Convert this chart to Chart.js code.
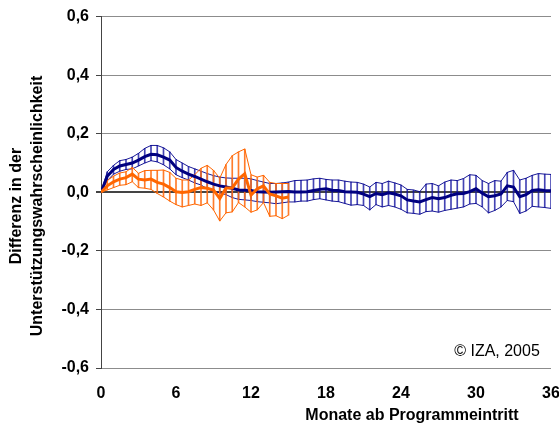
<!DOCTYPE html>
<html>
<head>
<meta charset="utf-8">
<script src="https://cdn.jsdelivr.net/npm/chart.js@4.4.1/dist/chart.umd.min.js"></script>
<style>
  html, body { margin: 0; padding: 0; background: #fff; }
  #wrap { width: 559px; height: 428px; }
</style>
</head>
<body>
<div id="wrap"><canvas id="chart" width="559" height="428"></canvas></div>
<script>
// months after programme entry, half-month steps
const months = [
  0, 0.5, 1, 1.5, 2, 2.5, 3, 3.5, 4, 4.5, 5, 5.5, 6, 6.5, 7, 7.5, 8, 8.5, 9, 9.5,
  10, 10.5, 11, 11.5, 12, 12.5, 13, 13.5, 14, 14.5, 15, 15.5, 16, 16.5, 17, 17.5,
  18, 18.5, 19, 19.5, 20, 20.5, 21, 21.5, 22, 22.5, 23, 23.5, 24, 24.5, 25, 25.5,
  26, 26.5, 27, 27.5, 28, 28.5, 29, 29.5, 30, 30.5, 31, 31.5, 32, 32.5, 33, 33.5,
  34, 34.5, 35, 35.5, 36
];

// navy series: estimate, upper and lower bound
const navyMean = [
  0, 0.055, 0.078, 0.09, 0.095, 0.1, 0.11, 0.122, 0.13, 0.128, 0.12, 0.11, 0.085, 0.072, 0.062, 0.054, 0.045, 0.036, 0.028, 0.022,
  0.018, 0.014, 0.008, 0.007, 0.006, 0.002, 0.001, 0, 0.001, 0.002, 0.003, 0.001, 0.001, 0.002, 0.006, 0.01,
  0.012, 0.007, 0.006, 0.002, 0.001, 0, -0.006, -0.015, -0.004, -0.008, -0.002, -0.006, -0.012, -0.026, -0.03, -0.033,
  -0.025, -0.018, -0.022, -0.018, -0.01, -0.005, -0.004, 0.002, 0.012, -0.003, -0.015, -0.012, -0.006, 0.022, 0.018, -0.015,
  -0.008, 0.006, 0.009, 0.006, 0.005
];
const navyUpper = [
  0, 0.07, 0.092, 0.108, 0.112, 0.12, 0.133, 0.15, 0.16, 0.16, 0.152, 0.138, 0.112, 0.1, 0.088, 0.08, 0.072, 0.064, 0.057, 0.052,
  0.049, 0.048, 0.048, 0.048, 0.046, 0.04, 0.035, 0.03, 0.03, 0.032, 0.035, 0.04, 0.041, 0.042, 0.046, 0.048,
  0.044, 0.042, 0.042, 0.038, 0.035, 0.034, 0.028, 0.018, 0.034, 0.03, 0.038, 0.032, 0.025, 0.01, 0.008, 0.002,
  0.028, 0.03, 0.022, 0.035, 0.042, 0.04, 0.047, 0.06, 0.058, 0.04, 0.03, 0.04, 0.038, 0.068, 0.075, 0.042,
  0.048, 0.058, 0.064, 0.062, 0.061
];
const navyLower = [
  0, 0.04, 0.062, 0.072, 0.078, 0.08, 0.09, 0.1, 0.108, 0.104, 0.094, 0.08, 0.06, 0.05, 0.042, 0.032, 0.025, 0.012, 0.004, -0.002,
  -0.008, -0.018, -0.024, -0.026, -0.028, -0.032, -0.034, -0.036, -0.039, -0.036, -0.033, -0.033, -0.03, -0.03, -0.025, -0.022,
  -0.026, -0.03, -0.032, -0.038, -0.044, -0.042, -0.045, -0.06, -0.042, -0.05, -0.045, -0.05, -0.058, -0.07, -0.072, -0.075,
  -0.066, -0.064, -0.068, -0.062, -0.058, -0.054, -0.05, -0.04, -0.038, -0.05, -0.07, -0.062, -0.05, -0.028, -0.032, -0.072,
  -0.064, -0.048, -0.05, -0.052, -0.055
];

// orange series only runs to month 15
const orangeMonths = [
  0, 0.5, 1, 1.5, 2, 2.5, 3, 3.5, 4, 4.5, 5, 5.5, 6, 6.5, 7, 7.5,
  8, 8.5, 9, 9.5, 10, 10.5, 11, 11.5, 12, 12.5, 13, 13.5, 14, 14.5, 15
];
const orangeMean = [
  0, 0.022, 0.036, 0.045, 0.05, 0.062, 0.045, 0.042, 0.045, 0.034, 0.028, 0.016, 0.002, -0.001, 0.002, 0.01,
  0.016, 0.014, 0.008, -0.021, 0.015, 0.015, 0.045, 0.063, -0.01, 0.012, 0.022, -0.006, -0.012, -0.02, -0.016
];
const orangeUpper = [
  0, 0.04, 0.055, 0.066, 0.07, 0.085, 0.065, 0.074, 0.075, 0.075, 0.076, 0.068, 0.048, 0.042, 0.042, 0.06,
  0.082, 0.092, 0.075, 0.048, 0.095, 0.125, 0.138, 0.148, 0.06, 0.052, 0.058, 0.034, 0.03, 0.03, 0.03
];
const orangeLower = [
  0, 0.008, 0.016, 0.024, 0.026, 0.036, 0.016, 0.014, 0.01, -0.004, -0.016, -0.03, -0.042, -0.05, -0.045, -0.04,
  -0.045, -0.036, -0.06, -0.098, -0.07, -0.067, -0.035, -0.05, -0.068, -0.06, -0.035, -0.082, -0.08, -0.09, -0.078
];

const xTicks = [0, 6, 12, 18, 24, 30, 36];
const yTitle = ['Differenz in der', 'Unterstützungswahrscheinlichkeit'];
const xTitle = 'Monate ab Programmeintritt';
const note = '© IZA, 2005';

const NAVY = '#000080';
const ORANGE = '#ff6600';
const FONT = '"Liberation Sans", Arial, sans-serif';

function points(xs, ys) {
  return xs.map((x, i) => ({ x: x, y: ys[i] }));
}

function bands(xs, lo, hi) {
  return xs.map((x, i) => ({ x: x, y: [lo[i], hi[i]] }));
}

function lineSet(data, color, width, order) {
  return {
    type: 'line',
    data: data,
    borderColor: color,
    borderWidth: width,
    pointRadius: 0,
    tension: 0,
    fill: false,
    order: order
  };
}

function hatchSet(data, color, order) {
  return {
    type: 'bar',
    data: data,
    backgroundColor: color,
    borderWidth: 0,
    barThickness: 1,
    grouped: false,
    order: order
  };
}

const textPlugin = {
  id: 'texts',
  afterDraw(chart) {
    const ctx = chart.ctx;
    ctx.save();
    ctx.fillStyle = '#000';
    ctx.textAlign = 'center';
    ctx.textBaseline = 'middle';
    ctx.font = 'bold 16px ' + FONT;
    ctx.fillText(xTitle, 412, 416);

    ctx.save();
    ctx.translate(17, 206);
    ctx.rotate(-Math.PI / 2);
    ctx.fillText(yTitle[0], 0, 0);
    ctx.fillText(yTitle[1], 0, 21);
    ctx.restore();

    ctx.font = '16px ' + FONT;
    ctx.fillText(note, 497, 352);
    ctx.restore();
  }
};

new Chart(document.getElementById('chart'), {
  type: 'line',
  data: {
    datasets: [
      lineSet(points(orangeMonths, orangeMean), ORANGE, 3, 0),
      lineSet(points(months, navyMean), NAVY, 3, 1),
      lineSet(points(orangeMonths, orangeUpper), ORANGE, 1, 2),
      lineSet(points(orangeMonths, orangeLower), ORANGE, 1, 2),
      hatchSet(bands(orangeMonths, orangeLower, orangeUpper), 'rgba(255,110,20,0.9)', 3),
      lineSet(points(months, navyUpper), 'rgba(0,0,140,0.9)', 1, 4),
      lineSet(points(months, navyLower), 'rgba(0,0,140,0.9)', 1, 4),
      hatchSet(bands(months, navyLower, navyUpper), 'rgba(20,20,160,0.8)', 5)
    ]
  },
  options: {
    responsive: false,
    animation: false,
    events: [],
    layout: { padding: { top: 16, right: 8, left: 0, bottom: 0 } },
    plugins: {
      legend: { display: false },
      tooltip: { enabled: false }
    },
    scales: {
      x: {
        type: 'linear',
        min: 0,
        max: 36,
        offset: false,
        afterBuildTicks: scale => { scale.ticks = xTicks.map(v => ({ value: v })); },
        afterFit: scale => {
          scale.height = 60;
          scale.paddingLeft = 0;
          scale.paddingRight = 0;
        },
        grid: { display: false, offset: false },
        border: { display: false },
        ticks: {
          color: '#000',
          padding: 8,
          maxRotation: 0,
          font: { family: FONT, size: 16, weight: 'bold' }
        }
      },
      y: {
        min: -0.6,
        max: 0.6,
        afterFit: scale => { scale.width = 101; },
        grid: {
          color: ctx => ctx.tick && ctx.tick.value === 0 ? '#444' : '#8c8c8c',
          lineWidth: ctx => ctx.tick && ctx.tick.value === 0 ? 2 : 1,
          tickColor: '#444',
          tickLength: 5
        },
        border: { display: true, color: '#444', width: 1 },
        ticks: {
          stepSize: 0.2,
          padding: 7,
          color: '#000',
          font: { family: FONT, size: 16, weight: 'bold' },
          callback: v => (Math.abs(v) < 1e-9 ? 0 : v).toFixed(1).replace('.', ',')
        }
      }
    }
  },
  plugins: [textPlugin]
});
</script>
</body>
</html>
